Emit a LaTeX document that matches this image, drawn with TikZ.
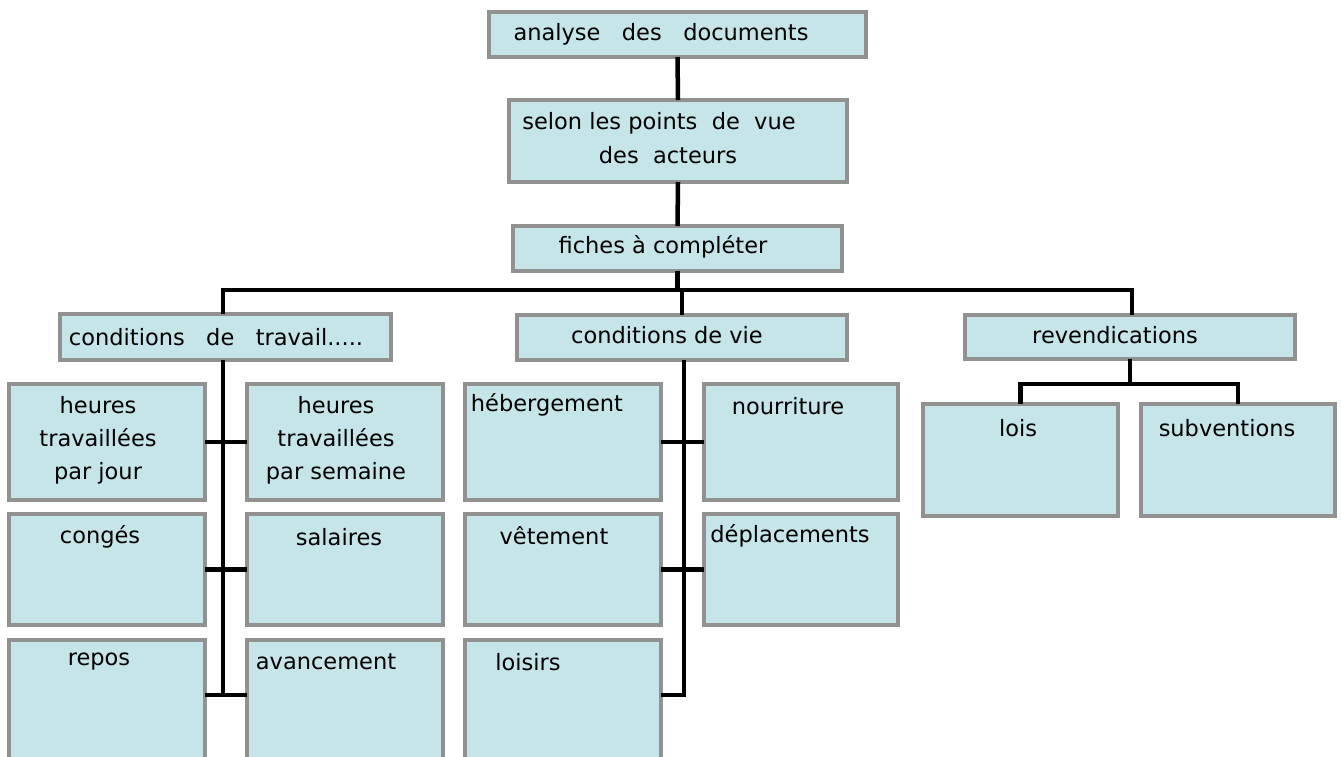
\documentclass[tikz,border=0pt]{standalone}
\usepackage{fontspec}
\setmainfont{DejaVu Sans}
\definecolor{boxfill}{RGB}{197,229,232}
\definecolor{boxline}{RGB}{145,145,145}
\begin{document}
\begin{tikzpicture}[x=1pt,y=-1pt,
  bx/.style={draw=boxline, fill=boxfill, line width=4.5pt, inner sep=0pt, outer sep=0pt, rectangle},
  conn/.style={draw=black, line width=4.5pt, line join=miter},
  txt/.style={inner sep=0pt, align=center, font=\fontsize{22.5}{33}\selectfont}]
\useasboundingbox (0,0) rectangle (1341,756);
% top chain
\node[bx, minimum width=377pt, minimum height=45pt] (analyse) at (677.5,34.5) {};
\node[bx, minimum width=338pt, minimum height=82pt] (selon) at (678,141) {};
\node[bx, minimum width=329pt, minimum height=45pt] (fiches) at (677.5,248.5) {};
% second level
\node[bx, minimum width=331pt, minimum height=46pt] (condtrav) at (225.5,337) {};
\node[bx, minimum width=330pt, minimum height=45pt] (condvie) at (682,337.5) {};
\node[bx, minimum width=330pt, minimum height=44pt] (revend) at (1130,337) {};
% left grid
\node[bx, minimum width=196pt, minimum height=116pt] (A1) at (107,442) {};
\node[bx, minimum width=196pt, minimum height=116pt] (B1) at (345,442) {};
\node[bx, minimum width=196pt, minimum height=111pt] (A2) at (107,569.5) {};
\node[bx, minimum width=196pt, minimum height=111pt] (B2) at (345,569.5) {};
\node[bx, minimum width=196pt, minimum height=122pt] (A3) at (107,701) {};
\node[bx, minimum width=196pt, minimum height=122pt] (B3) at (345,701) {};
% middle grid
\node[bx, minimum width=196pt, minimum height=116pt] (C1) at (563,442) {};
\node[bx, minimum width=194pt, minimum height=116pt] (D1) at (801,442) {};
\node[bx, minimum width=196pt, minimum height=111pt] (C2) at (563,569.5) {};
\node[bx, minimum width=194pt, minimum height=111pt] (D2) at (801,569.5) {};
\node[bx, minimum width=196pt, minimum height=122pt] (C3) at (563,701) {};
% right
\node[bx, minimum width=195pt, minimum height=112pt] (lois) at (1020.5,460) {};
\node[bx, minimum width=194pt, minimum height=112pt] (subv) at (1238,460) {};
% texts
\node[txt] (t1) at (661,34) {analyse\ \ \ des\ \ \ documents};
\node[txt] (t2) at (659,123) {selon les points\ \ de\ \ vue};
\node[txt] (t3) at (668,155) {des\ \ acteurs};
\node[txt] (t4) at (663,247) {fiches à compléter};
\node[txt] (t5) at (216,337) {conditions\ \ \ de\ \ \ travail.....};
\node[txt] (t6) at (667,335) {conditions de vie};
\node[txt] (t7) at (1115,335) {revendications};
\node[txt] (t8) at (98,440) {heures\\travaillées\\par jour};
\node[txt] (t9) at (336,440) {heures\\travaillées\\par semaine};
\node[txt] (t10) at (100,537) {congés};
\node[txt] (t11) at (339,537) {salaires};
\node[txt] (t12) at (99,662) {repos};
\node[txt] (t13) at (326,662) {avancement};
\node[txt] (t14) at (547,405) {hébergement};
\node[txt] (t15) at (788,406) {nourriture};
\node[txt] (t16) at (554,536) {vêtement};
\node[txt] (t17) at (790,536) {déplacements};
\node[txt] (t18) at (528,662) {loisirs};
\node[txt] (t19) at (1018,428) {lois};
\node[txt] (t20) at (1227,428) {subventions};
% connectors
\coordinate (jL) at (223,290);
\coordinate (jR) at (1132,290);
\coordinate (rj) at (1130,384);
\draw[conn] (analyse.south) -- (selon.north);
\draw[conn] (selon.south) -- (fiches.north);
\draw[conn] (fiches.south) -- (fiches.south |- jL);
\draw[conn] (condtrav.north -| jL) -- (jL) -- (jR) -- (revend.north -| jR);
\draw[conn] (condvie.north) -- (condvie.north |- jL);
\coordinate (sL) at (223,695);
\draw[conn] (condtrav.south -| sL) -- (sL);
\draw[conn] (A1.east) -- (B1.west);
\draw[conn] (A2.east) -- (B2.west);
\draw[conn] (A3.east |- sL) -- (B3.west |- sL);
\coordinate (sM) at (684,695);
\draw[conn] (condvie.south -| sM) -- (sM) -- (C3.east |- sM);
\draw[conn] (C1.east) -- (D1.west);
\draw[conn] (C2.east) -- (D2.west);
\draw[conn] (revend.south) -- (revend.south |- rj);
\draw[conn] (lois.north) -- (lois.north |- rj) -- (subv.north |- rj) -- (subv.north);
\end{tikzpicture}
\end{document}
